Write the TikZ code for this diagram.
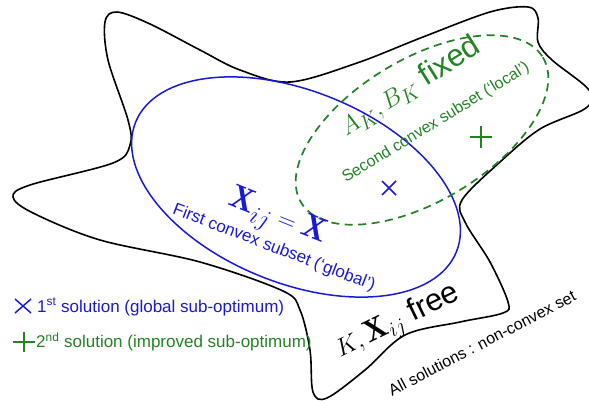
\documentclass[tikz,border=0pt]{standalone}
\usepackage{fontspec}
\setsansfont{Liberation Sans}
\usetikzlibrary{calc}
\definecolor{myblue}{RGB}{25,25,215}
\definecolor{mygreen}{RGB}{35,130,35}
\begin{document}
\begin{tikzpicture}[x=1pt,y=-1pt,
  outline/.style={draw=black,line width=1.6pt},
  convexA/.style={draw=myblue,line width=1.5pt},
  convexB/.style={draw=mygreen,line width=1.7pt,dash pattern=on 8pt off 5.5pt},
  lbl/.style={font=\sffamily\fontsize{17}{20}\selectfont,inner sep=0pt},
  big/.style={font=\sffamily\fontsize{31}{34}\selectfont,inner sep=0pt},
  xmark/.style={draw=myblue,line width=1.5pt},
  pmark/.style={draw=mygreen,line width=1.6pt}]
\useasboundingbox (0,0) rectangle (589,401);
% non-convex set
\draw[outline] plot[smooth cycle,tension=0.55] coordinates {
 (117,12) (150,24) (200,50) (240,70) (290,82) (357,63) (423,37) (490,12)
 (528,7) (538,18) (538,42) (552,60) (589,90) (586,108) (540,129) (500,162)
 (462,200) (465,222) (490,262) (508,302) (503,313) (460,322) (405,335)
 (365,370) (327,398) (313,392) (310,350) (300,310) (283,291) (200,262)
 (100,240) (33,213) (13,197) (30,185) (113,163) (130,145) (128,120)
 (108,60) (105,22)};
% first convex subset
\draw[convexA,rotate around={-22:(296,187)}] (296,187) ellipse [x radius=173, y radius=96];
% second convex subset
\draw[convexB,rotate around={31:(422,130)}] (422,130) ellipse [x radius=141, y radius=71];
% labels
\node[big,text=mygreen,rotate=32] (ab) at (410,87) {$A_K,B_K$ fixed};
\node[lbl,text=mygreen,rotate=31.5,font=\sffamily\fontsize{16}{19}\selectfont] (sec) at (436,123) {Second convex subset (‘local’)};
\node[big,text=myblue,rotate=-22,font=\sffamily\fontsize{33}{36}\selectfont] (xij) at (277,219) {$\mathbf{X}_{ij}=\mathbf{X}$};
\node[lbl,text=myblue,rotate=-21] (fir) at (274,248) {First convex subset (‘global’)};
\node[big,text=black,rotate=26] (kx) at (398,322) {$K,\mathbf{X}_{ij}$ free};
\node[lbl,text=black,rotate=27.5,font=\sffamily\fontsize{16}{19}\selectfont] (all) at (482,343) {All solutions : non-convex set};
% solutions
\coordinate (s1) at (389,188);
\coordinate (s2) at (481,137);
\draw[xmark] ($(s1)+(-7,-7)$) -- ($(s1)+(7,7)$) ($(s1)+(-7,7)$) -- ($(s1)+(7,-7)$);
\draw[pmark] ($(s2)+(-11,0)$) -- ($(s2)+(11,0)$) ($(s2)+(0,-11)$) -- ($(s2)+(0,11)$);
% legend
\coordinate (l1) at (23,306);
\coordinate (l2) at (24,342);
\draw[xmark] ($(l1)+(-8,-7)$) -- ($(l1)+(8,7)$) ($(l1)+(-8,7)$) -- ($(l1)+(8,-7)$);
\draw[pmark] ($(l2)+(-11,0)$) -- ($(l2)+(11,0)$) ($(l2)+(0,-10)$) -- ($(l2)+(0,10)$);
\node[lbl,text=myblue,anchor=west] (t1) at (37,307) {1\textsuperscript{st} solution (global sub-optimum)};
\node[lbl,text=mygreen,anchor=west] (t2) at (36,342) {2\textsuperscript{nd} solution (improved sub-optimum)};
\end{tikzpicture}
\end{document}
